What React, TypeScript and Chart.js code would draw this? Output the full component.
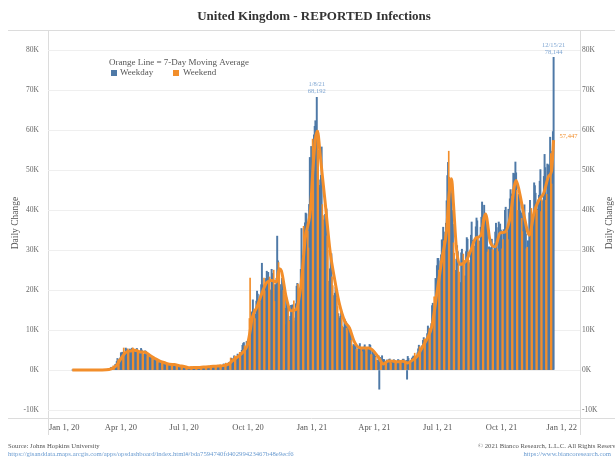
import React, { useEffect, useRef } from "react";
import { Chart, registerables } from "chart.js";

Chart.register(...registerables);

const FONT = "'Liberation Serif', 'DejaVu Serif', serif";
const BLUE = "#4e79a7";
const ORANGE = "#f28e2b";

const CHART_TITLE = "United Kingdom - REPORTED Infections";
const LEGEND_NOTE = "Orange Line = 7-Day Moving Average";
const SERIES_NAMES = ["Weekday", "Weekend"];
const AXIS_TITLE = "Daily Change";
const SOURCE_LINE = "Source: Johns Hopkins University";
const SOURCE_URL = "https://gisanddata.maps.arcgis.com/apps/opsdashboard/index.html#/bda7594740fd40299423467b48e9ecf6";
const COPYRIGHT = "\u00a9 2021 Bianco Research, L.L.C. All Rights Reserved";
const SITE_URL = "https://www.biancoresearch.com";

// y ticks in thousands
const Y_TICKS = [-10, 0, 10, 20, 30, 40, 50, 60, 70, 80];
const X_TICK_DATES = ["2020-01-01", "2020-04-01", "2020-07-01", "2020-10-01", "2021-01-01", "2021-04-01", "2021-07-01", "2021-10-01", "2022-01-01"];
const X_TICK_LABELS = ["Jan 1, 20", "Apr 1, 20", "Jul 1, 20", "Oct 1, 20", "Jan 1, 21", "Apr 1, 21", "Jul 1, 21", "Oct 1, 21", "Jan 1, 22"];

// daily reported infections (thousands), consecutive days from DAILY_START
const DAILY_START = "2020-01-22";
const d2020_01 = [0, 0, 0, 0, 0, 0, 0, 0, 0, 0];
const d2020_02 = [0, 0, 0, 0, 0, 0, 0, 0, 0, 0, 0, 0, 0, 0, 0, 0, 0, 0, 0, 0, 0, 0, 0, 0, 0, 0, 0, 0, 0];
const d2020_03 = [0.01, 0.01, 0.01, 0.02, 0.03, 0.05, 0.05, 0.07, 0.05, 0.05, 0.08, 0.13, 0.2, 0.25, 0.25, 0.15, 0.4, 0.68, 0.64, 0.71, 1.04, 0.67, 0.97, 1.43, 1.45, 2.13, 2.89, 2.55, 2.43, 2.64, 3.01];
const d2020_04 = [4.32, 4.24, 4.45, 3.74, 5.5, 3.8, 3.63, 5.49, 4.34, 5.19, 5.29, 4.36, 4.34, 5.25, 4.6, 4.62, 5.45, 5.53, 5.35, 4.68, 4.3, 4.45, 4.58, 5.39, 4.91, 4.46, 4.31, 3.99, 4.08, 5.4];
const d2020_05 = [5.0, 4.3, 4.0, 3.7, 4.0, 4.8, 4.6, 4.1, 3.6, 3.5, 3.4, 3.1, 3.0, 3.2, 3.2, 3.1, 3.1, 2.5, 2.8, 2.3, 2.4, 2.8, 2.6, 2.2, 1.6, 1.9, 1.9, 1.8, 1.9, 2.1, 1.8];
const d2020_06 = [1.57, 1.65, 1.87, 1.8, 1.65, 1.56, 1.33, 1.21, 1.39, 1.0, 1.54, 1.54, 1.42, 1.51, 1.06, 1.28, 1.12, 1.22, 1.35, 1.3, 1.22, 0.96, 0.87, 0.65, 1.12, 1.03, 0.9, 0.8, 0.82, 0.69];
const d2020_07 = [0.83, 0.83, 0.58, 0.62, 0.52, 0.35, 0.58, 0.63, 0.51, 0.64, 0.82, 0.65, 0.53, 0.54, 0.54, 0.72, 0.69, 0.83, 0.65, 0.62, 0.47, 0.45, 0.77, 0.76, 0.77, 0.75, 0.69, 0.58, 0.76, 0.85, 0.88];
const d2020_08 = [0.74, 0.74, 0.76, 0.67, 0.89, 0.95, 0.87, 0.76, 1.06, 0.73, 1.15, 0.99, 1.01, 1.12, 1.02, 1.01, 0.71, 1.18, 0.81, 1.18, 1.03, 1.29, 1.04, 0.85, 1.18, 1.05, 1.52, 1.28, 1.11, 1.72, 1.27];
const d2020_09 = [1.29, 1.51, 1.74, 1.94, 1.81, 2.99, 2.95, 2.46, 2.66, 2.92, 3.54, 3.5, 3.33, 2.62, 3.11, 3.99, 3.4, 3.36, 4.42, 3.9, 4.37, 4.93, 6.18, 6.63, 6.87, 6.04, 5.69, 4.04, 7.14, 7.11];
const d2020_10 = [6.91, 6.97, 12.87, 22.96, 12.59, 14.54, 14.16, 17.54, 13.86, 15.17, 12.87, 13.97, 17.23, 19.72, 18.98, 15.65, 16.17, 16.98, 18.8, 21.33, 26.69, 21.24, 20.53, 23.01, 19.79, 20.89, 22.89, 24.7, 23.06, 24.41, 21.92];
const d2020_11 = [23.25, 18.95, 20.02, 25.18, 24.14, 23.29, 24.96, 17.16, 21.35, 20.41, 22.95, 33.47, 27.3, 26.86, 24.96, 21.36, 20.05, 19.61, 22.92, 20.25, 19.88, 18.66, 15.45, 11.3, 18.21, 17.55, 16.02, 15.87, 12.16, 12.33];
const d2020_12 = [13.43, 16.17, 14.88, 16.3, 15.54, 17.27, 12.28, 13.0, 16.58, 20.96, 21.67, 21.5, 18.45, 20.26, 18.45, 25.16, 35.38, 28.51, 27.05, 35.93, 33.36, 36.8, 39.24, 39.04, 32.73, 34.69, 30.5, 41.39, 53.14, 50.02, 55.89];
const d2021_01 = [53.29, 57.73, 54.99, 58.78, 60.92, 62.32, 52.62, 68.192, 59.94, 54.94, 46.17, 45.53, 47.53, 48.68, 55.76, 41.35, 38.6, 37.54, 33.36, 38.91, 37.89, 40.26, 33.55, 30.0, 22.2, 20.09, 25.31, 28.68, 29.08, 23.27, 21.09];
const d2021_02 = [18.61, 16.84, 19.2, 20.63, 19.11, 18.26, 15.85, 14.1, 12.36, 13.01, 13.43, 15.14, 13.31, 10.97, 9.77, 10.63, 12.71, 12.06, 12.03, 10.41, 9.83, 10.64, 8.49, 9.95, 9.99, 8.52, 7.43, 6.03];
const d2021_03 = [5.45, 6.39, 6.09, 6.05, 6.04, 5.18, 5.24, 4.69, 5.77, 5.93, 6.61, 5.54, 5.64, 4.62, 5.09, 5.29, 5.76, 6.3, 4.8, 5.59, 5.31, 5.34, 5.38, 5.6, 6.39, 6.19, 3.86, 3.79, 4.72, 4.04, 4.05];
const d2021_04 = [4.48, 3.42, 3.15, 2.3, 2.37, 2.38, 3.54, -4.8, 3.15, 1.73, 1.89, 3.57, 2.47, 2.67, 2.6, 2.2, 1.88, 1.91, 2.52, 2.4, 2.42, 2.6, 2.76, 2.08, 1.71, 2.06, 2.09, 2.16, 2.58, 2.38];
const d2021_05 = [1.9, 1.7, 1.6, 1.9, 2.6, 2.5, 2.0, 1.9, 1.8, 2.4, 2.0, 2.7, 2.7, 2.2, 2.0, 1.9, 2.4, -2.3, 3.4, 2.9, 2.1, 2.2, 1.8, 2.4, 2.9, 3.2, 3.5, 3.4, 4.2, 3.2, 3.2];
const d2021_06 = [3.2, 4.3, 5.3, 6.2, 5.8, 5.3, 5.4, 6.0, 6.0, 7.4, 8.1, 7.7, 7.5, 7.7, 7.7, 9.1, 11.0, 10.5, 10.3, 9.3, 9.3, 11.6, 16.1, 16.7, 15.8, 18.3, 14.9, 22.9, 20.5, 26.1];
const d2021_07 = [27.9, 27.9, 24.9, 24.2, 27.3, 28.8, 32.5, 32.6, 35.7, 32.3, 31.8, 34.5, 36.7, 42.3, 48.6, 51.9, 54.7, 48.2, 39.9, 46.6, 44.1, 39.9, 36.4, 31.8, 29.2, 24.9, 24.0, 27.7, 31.1, 29.6, 26.1];
const d2021_08 = [24.5, 21.9, 21.7, 29.3, 30.2, 27.7, 29.0, 27.4, 23.5, 23.5, 29.6, 33.1, 32.7, 29.5, 27.4, 26.6, 26.9, 33.7, 37.0, 32.4, 32.1, 31.9, 31.0, 30.8, 35.8, 38.0, 37.3, 33.0, 32.3, 26.5, 32.2];
const d2021_09 = [35.7, 38.2, 42.0, 37.6, 38.2, 41.2, 37.5, 38.3, 38.0, 37.6, 29.5, 30.1, 30.8, 27.0, 30.6, 26.9, 32.7, 30.1, 30.0, 29.6, 31.6, 34.5, 36.7, 35.6, 30.3, 29.6, 37.0, 34.5, 36.5, 35.0];
const d2021_10 = [34.5, 30.3, 32.6, 35.1, 33.9, 39.9, 40.7, 35.0, 34.5, 32.6, 40.2, 38.5, 42.8, 45.1, 44.0, 43.4, 45.1, 49.2, 43.7, 49.1, 52.0, 49.3, 44.9, 39.9, 36.6, 43.9, 43.4, 39.8, 39.3, 37.9, 34.6];
const d2021_11 = [40.1, 33.9, 41.3, 37.3, 34.0, 30.3, 30.7, 32.3, 32.2, 39.3, 42.4, 36.1, 40.4, 36.5, 36.7, 37.8, 46.8, 46.1, 44.2, 40.9, 40.0, 40.2, 42.5, 43.7, 47.2, 50.1, 39.6, 42.6, 42.3, 39.7];
const d2021_12 = [48.4, 53.9, 50.6, 42.4, 43.9, 51.5, 45.7, 51.3, 50.9, 58.2, 54.1, 46.5, 54.7, 59.6, 78.144];

// 7-day moving average (thousands)
const MA_DATES = [
  "2020-01-22", "2020-03-04", "2020-03-11", "2020-03-18", "2020-03-25", "2020-04-01", "2020-04-08", "2020-04-15", "2020-04-22", "2020-04-29",
  "2020-05-06", "2020-05-13", "2020-05-20", "2020-05-27", "2020-06-03", "2020-06-10", "2020-06-17", "2020-06-24", "2020-07-01", "2020-07-08",
  "2020-07-15", "2020-07-22", "2020-07-29", "2020-08-05", "2020-08-12", "2020-08-19", "2020-08-26", "2020-09-02", "2020-09-09", "2020-09-16",
  "2020-09-23", "2020-09-30", "2020-10-04", "2020-10-07", "2020-10-14", "2020-10-21", "2020-10-28", "2020-11-04", "2020-11-11", "2020-11-15",
  "2020-11-18", "2020-11-25", "2020-12-02", "2020-12-09", "2020-12-16", "2020-12-23", "2020-12-26", "2020-12-30", "2021-01-02", "2021-01-06",
  "2021-01-09", "2021-01-13", "2021-01-16", "2021-01-20", "2021-01-27", "2021-02-03", "2021-02-10", "2021-02-17", "2021-02-24", "2021-03-03",
  "2021-03-10", "2021-03-17", "2021-03-24", "2021-03-31", "2021-04-07", "2021-04-14", "2021-04-21", "2021-04-28", "2021-05-05", "2021-05-12",
  "2021-05-19", "2021-05-26", "2021-06-02", "2021-06-09", "2021-06-16", "2021-06-23", "2021-06-30", "2021-07-07", "2021-07-14", "2021-07-17",
  "2021-07-21", "2021-07-24", "2021-07-28", "2021-08-02", "2021-08-11", "2021-08-18", "2021-08-25", "2021-09-01", "2021-09-08", "2021-09-15",
  "2021-09-22", "2021-09-29", "2021-10-06", "2021-10-13", "2021-10-22", "2021-10-27", "2021-11-03", "2021-11-10", "2021-11-17", "2021-11-24",
  "2021-12-01", "2021-12-08", "2021-12-12", "2021-12-15",
];
const MA_VALUES = [
  0, 0.03, 0.05, 0.29, 0.99, 2.85, 4.41, 4.77, 4.94, 4.53,
  4.46, 3.61, 2.89, 2.2, 1.81, 1.42, 1.35, 1.08, 0.88, 0.59,
  0.6, 0.63, 0.73, 0.79, 0.93, 0.98, 1.09, 1.39, 2.36, 3.29,
  4.37, 6.22, 9.7, 13.0, 15.8, 19.2, 21.9, 22.4, 22.0, 25.3,
  24.8, 18.1, 14.8, 15.1, 20.9, 33.8, 36.0, 40.2, 48.9, 57.7,
  59.7, 53.6, 48.6, 42.0, 29.9, 22.4, 16.2, 12.3, 10.5, 7.1,
  5.6, 5.5, 5.5, 4.7, 3.1, 1.5, 2.27, 2.2, 2.09, 2.19,
  1.76, 2.5, 3.57, 5.71, 7.89, 11.16, 19.3, 27.6, 35.1, 42.9,
  47.8, 41.0, 30.6, 26.4, 27.3, 30.0, 33.0, 33.6, 39.0, 31.9,
  30.8, 34.3, 34.5, 37.8, 47.4, 44.3, 38.1, 33.7, 39.5, 42.5,
  44.3, 48.5, 49.7, 57.447,
];

const ANNOTATED_DATES = ["2021-01-08", "2021-12-15"];

const ORIGIN = Date.UTC(2020, 0, 1);
const toDay = (iso: string) => {
  const [y, m, d] = iso.split("-").map(Number);
  return Math.round((Date.UTC(y, m - 1, d) - ORIGIN) / 86400000);
};
const dayLabel = (day: number) => {
  const dt = new Date(ORIGIN + day * 86400000);
  return `${dt.getUTCMonth() + 1}/${dt.getUTCDate()}/${String(dt.getUTCFullYear()).slice(2)}`;
};
const fmt = (k: number) => Math.round(k * 1000).toLocaleString("en-US");

const DAILY_MONTHS = [d2020_01, d2020_02, d2020_03, d2020_04, d2020_05, d2020_06, d2020_07, d2020_08, d2020_09, d2020_10, d2020_11, d2020_12,
  d2021_01, d2021_02, d2021_03, d2021_04, d2021_05, d2021_06, d2021_07, d2021_08, d2021_09, d2021_10, d2021_11, d2021_12];

export default function App() {
  const ref = useRef<HTMLCanvasElement | null>(null);

  useEffect(() => {
    document.body.style.margin = "0";
    const startDay = toDay(DAILY_START);
    const daily = DAILY_MONTHS.flat().map((v, i) => ({ x: startDay + i, y: v }));
    const isWeekend = (day: number) => {
      const dow = (day + 3) % 7; // Jan 1 2020 was a Wednesday
      return dow === 0 || dow === 6;
    };
    const weekdayPts = daily.filter((p) => !isWeekend(p.x));
    const weekendPts = daily.filter((p) => isWeekend(p.x));
    const maPts = MA_DATES.map((d, i) => ({ x: toDay(d), y: MA_VALUES[i] }));

    const overlay = {
      id: "overlay",
      beforeDraw(chart: any) {
        const { ctx, chartArea } = chart;
        const { left, right, top, bottom } = chartArea;
        ctx.save();
        ctx.fillStyle = "#ffffff";
        ctx.fillRect(0, 0, chart.width, chart.height);
        ctx.strokeStyle = "#dcdcdc";
        ctx.lineWidth = 1;
        ctx.beginPath();
        ctx.moveTo(8, Math.round(top) + 0.5);
        ctx.lineTo(chart.width, Math.round(top) + 0.5);
        ctx.moveTo(8, Math.round(bottom) + 0.5);
        ctx.lineTo(chart.width, Math.round(bottom) + 0.5);
        ctx.moveTo(Math.round(left) + 0.5, top);
        ctx.lineTo(Math.round(left) + 0.5, bottom + 17);
        ctx.moveTo(Math.round(right) + 0.5, top);
        ctx.lineTo(Math.round(right) + 0.5, bottom + 17);
        ctx.stroke();
        ctx.restore();
      },
      afterDraw(chart: any) {
        const { ctx, chartArea } = chart;
        const xs = chart.scales.x;
        const ys = chart.scales.y;
        ctx.save();
        ctx.textBaseline = "middle";

        // title
        ctx.fillStyle = "#333333";
        ctx.font = `bold 13px ${FONT}`;
        ctx.textAlign = "center";
        ctx.fillText(CHART_TITLE, 314, 17);

        // legend
        ctx.textAlign = "left";
        ctx.font = `9px ${FONT}`;
        ctx.fillStyle = "#555555";
        ctx.fillText(LEGEND_NOTE, 109, 63);
        ctx.fillStyle = BLUE;
        ctx.fillRect(111, 70, 6, 6);
        ctx.fillStyle = ORANGE;
        ctx.fillRect(173, 70, 6, 6);
        ctx.fillStyle = "#555555";
        ctx.fillText(SERIES_NAMES[0], 120, 73);
        ctx.fillText(SERIES_NAMES[1], 183, 73);

        // axis titles
        ctx.font = `9.5px ${FONT}`;
        ctx.fillStyle = "#555555";
        ctx.textAlign = "center";
        ctx.save();
        ctx.translate(15, 223);
        ctx.rotate(-Math.PI / 2);
        ctx.fillText(AXIS_TITLE, 0, 0);
        ctx.restore();
        ctx.save();
        ctx.translate(609, 223);
        ctx.rotate(-Math.PI / 2);
        ctx.fillText(AXIS_TITLE, 0, 0);
        ctx.restore();

        // x tick labels (kept inside the pane)
        ctx.font = `8.5px ${FONT}`;
        ctx.fillStyle = "#555555";
        ctx.textAlign = "left";
        X_TICK_DATES.forEach((d, i) => {
          const px = xs.getPixelForValue(toDay(d));
          const w = ctx.measureText(X_TICK_LABELS[i]).width;
          let lx = px - w / 2;
          lx = Math.max(chartArea.left + 1, Math.min(lx, chartArea.right - 3 - w));
          ctx.fillText(X_TICK_LABELS[i], lx, 428);
        });

        // peak annotations
        ctx.textAlign = "center";
        ctx.font = `6.5px ${FONT}`;
        ctx.fillStyle = "#7fa6d2";
        ANNOTATED_DATES.forEach((d) => {
          const day = toDay(d);
          const p = daily.find((q) => q.x === day);
          if (!p) return;
          const px = xs.getPixelForValue(day);
          const py = ys.getPixelForValue(p.y);
          ctx.fillText(dayLabel(day), px, py - 12.5);
          ctx.fillText(fmt(p.y), px, py - 5.5);
        });

        // moving-average end label
        const last = maPts[maPts.length - 1];
        ctx.textAlign = "left";
        ctx.fillStyle = ORANGE;
        ctx.fillText(fmt(last.y), xs.getPixelForValue(last.x) + 6, ys.getPixelForValue(last.y) - 4);

        // footer
        ctx.font = `6.7px ${FONT}`;
        ctx.fillStyle = "#555555";
        ctx.fillText(SOURCE_LINE, 8, 446);
        ctx.fillText(COPYRIGHT, 478, 446);
        ctx.fillStyle = "#6a9bd0";
        ctx.fillText(SOURCE_URL, 8, 454);
        ctx.textAlign = "right";
        ctx.fillText(SITE_URL, 611, 454);
        ctx.restore();
      },
    };

    const yTicks = (scale: any) => {
      scale.ticks = Y_TICKS.map((v) => ({ value: v }));
    };

    const chart = new Chart(ref.current as HTMLCanvasElement, {
      type: "bar",
      data: {
        datasets: [
          {
            type: "line",
            label: "7-Day Moving Average",
            data: maPts,
            borderColor: ORANGE,
            borderWidth: 3,
            pointRadius: 0,
            cubicInterpolationMode: "monotone",
            order: 0,
            yAxisID: "y",
          } as any,
          {
            label: SERIES_NAMES[0],
            data: weekdayPts,
            backgroundColor: BLUE,
            grouped: false,
            barThickness: 1.3,
            order: 2,
            yAxisID: "y",
          },
          {
            label: SERIES_NAMES[1],
            data: weekendPts,
            backgroundColor: ORANGE,
            grouped: false,
            barThickness: 1,
            order: 1,
            yAxisID: "y",
          },
        ],
      },
      options: {
        responsive: false,
        animation: false,
        events: [],
        layout: { padding: { top: 30, left: 0, right: 0, bottom: 0 } },
        plugins: { legend: { display: false }, tooltip: { enabled: false }, title: { display: false } },
        scales: {
          x: {
            type: "linear",
            offset: false,
            min: -14,
            max: 752,
            ticks: { display: false },
            grid: { display: false, offset: false },
            border: { display: false },
            afterBuildTicks: (s: any) => {
              s.ticks = X_TICK_DATES.map((d) => ({ value: toDay(d) }));
            },
            afterFit: (s: any) => {
              s.height = 40;
            },
          },
          y: {
            position: "left",
            min: -12,
            max: 85,
            afterBuildTicks: yTicks,
            ticks: { callback: (v: any) => `${v}K`, font: { family: FONT, size: 7.5 }, color: "#666666", padding: 9 },
            grid: { color: "#efefef", drawTicks: false },
            border: { display: false },
            afterFit: (s: any) => {
              s.width = 48;
            },
          },
          y2: {
            position: "right",
            min: -12,
            max: 85,
            afterBuildTicks: yTicks,
            ticks: { callback: (v: any) => `${v}K`, font: { family: FONT, size: 7.5 }, color: "#666666", padding: 2 },
            grid: { display: false, drawTicks: false },
            border: { display: false },
            afterFit: (s: any) => {
              s.width = 35;
            },
          },
        },
      } as any,
      plugins: [overlay],
    });
    return () => chart.destroy();
  }, []);

  return <canvas ref={ref} width={615} height={458} style={{ display: "block" }} />;
}
